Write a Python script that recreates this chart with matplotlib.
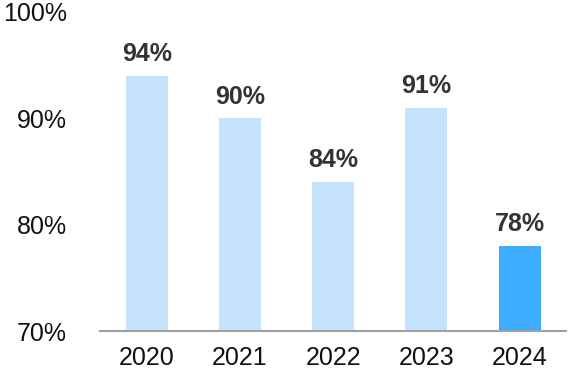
import numpy as np
import matplotlib.pyplot as plt

years = ['2020', '2021', '2022', '2023', '2024']
values = [94, 90, 84, 91, 78]
bar_colors = ['#C5E3FC', '#C5E3FC', '#C5E3FC', '#C5E3FC', '#3EACFF']
yticks = [70, 80, 90, 100]

plt.rcParams['font.family'] = ['Liberation Sans', 'DejaVu Sans']

fig = plt.figure(figsize=(5.76, 3.84), dpi=100)
ax = fig.add_axes([0.174, 0.138, 0.809, 0.831])

x = np.arange(len(years))
ax.bar(x, values, width=0.45, color=bar_colors, bottom=0)

for xi, v in zip(x, values):
    ax.annotate(f'{v}%', (xi, v), xytext=(0, 7), textcoords='offset points',
                ha='center', va='bottom', fontsize=18, fontweight='bold', color='#333333')

ax.set_xlim(-0.5, 4.5)
ax.set_ylim(70, 100)
ax.set_xticks(x)
ax.set_xticklabels(years)
ax.set_yticks(yticks)
ax.set_yticklabels([f'{t}%' for t in yticks])
ax.tick_params(axis='both', length=0, labelsize=18, colors='#111111')
ax.tick_params(axis='y', pad=24)
ax.tick_params(axis='x', pad=11)

for s in ['top', 'right', 'left']:
    ax.spines[s].set_visible(False)
ax.spines['bottom'].set_color('#A0A0A0')
ax.spines['bottom'].set_linewidth(1.5)

plt.savefig('out.png', dpi=100)
